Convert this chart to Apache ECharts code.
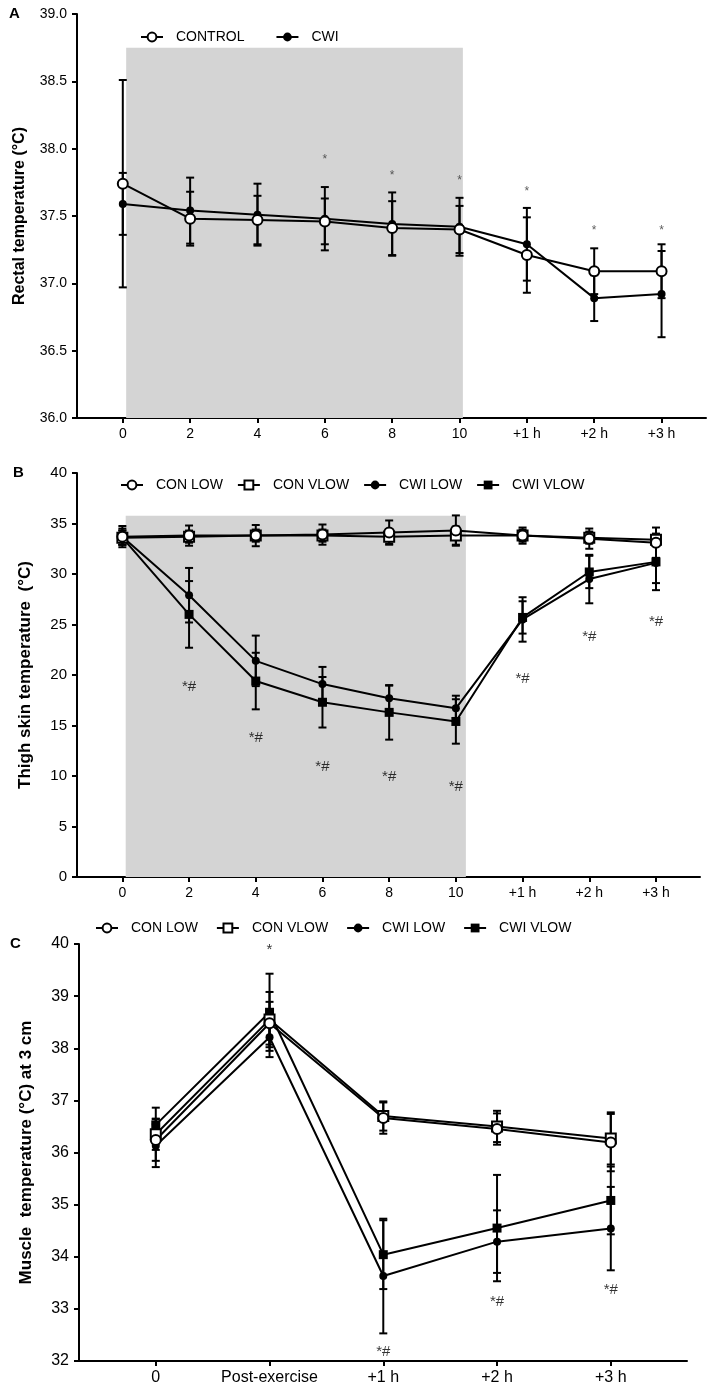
<!DOCTYPE html>
<html><head><meta charset="utf-8">
<script src="https://cdn.jsdelivr.net/npm/echarts@6/dist/echarts.min.js"></script>
<style>html,body{margin:0;padding:0;background:#fff}#c{width:709px;height:1389px}</style>
</head><body><div id="c"></div>
<script>
// ---------- tick labels ----------
const labelsAB = ['0', '2', '4', '6', '8', '10', '+1 h', '+2 h', '+3 h'];
const labelsC = ['0', 'Post-exercise', '+1 h', '+2 h', '+3 h'];

// ---------- Panel A: rectal temperature ----------
const aControlMean = [37.74, 37.48, 37.47, 37.46, 37.41, 37.40, 37.21, 37.09, 37.09];
const aControlSd   = [0.77, 0.20, 0.18, 0.17, 0.20, 0.175, 0.28, 0.17, 0.20];
const aCwiMean     = [37.59, 37.54, 37.51, 37.48, 37.44, 37.42, 37.29, 36.89, 36.92];
const aCwiSd       = [0.23, 0.245, 0.23, 0.235, 0.235, 0.215, 0.27, 0.17, 0.32];
const aMarkText    = [null, null, null, '*', '*', '*', '*', '*', '*'];
const aMarkY       = [null, null, null, 37.92, 37.80, 37.76, 37.68, 37.39, 37.39];

// ---------- Panel B: thigh skin temperature ----------
const bConLowMean  = [33.7, 33.8, 33.8, 33.9, 34.1, 34.3, 33.8, 33.5, 33.1];
const bConLowSd    = [1.05, 1.0, 1.05, 1.0, 1.2, 1.5, 0.6, 1.0, 1.5];
const bConVlowMean = [33.6, 33.7, 33.8, 33.8, 33.7, 33.8, 33.8, 33.6, 33.4];
const bConVlowSd   = [0.7, 0.6, 0.6, 0.6, 0.7, 0.9, 0.8, 0.6, 0.6];
const bCwiLowMean  = [33.7, 27.9, 21.4, 19.1, 17.7, 16.7, 25.5, 29.5, 31.1];
const bCwiLowSd    = [0.8, 2.7, 2.5, 1.7, 1.25, 1.25, 2.2, 2.4, 2.7];
const bCwiVlowMean = [33.6, 26.0, 19.4, 17.3, 16.3, 15.4, 25.7, 30.2, 31.2];
const bCwiVlowSd   = [0.7, 3.3, 2.8, 2.5, 2.7, 2.2, 1.6, 1.6, 2.1];
const bMarkText    = [null, '*#', '*#', '*#', '*#', '*#', '*#', '*#', '*#'];
const bMarkY       = [null, 18.8, 13.8, 10.9, 9.9, 8.9, 19.6, 23.8, 25.3];

// ---------- Panel C: muscle temperature at 3 cm ----------
const cConLowMean  = [36.24, 38.48, 36.66, 36.45, 36.19];
const cConLowSd    = [0.4, 0.41, 0.3, 0.3, 0.55];
const cConVlowMean = [36.35, 38.55, 36.70, 36.50, 36.27];
const cConVlowSd   = [0.3, 0.53, 0.28, 0.3, 0.5];
const cCwiLowMean  = [36.13, 38.21, 33.63, 34.29, 34.54];
const cCwiLowSd    = [0.41, 0.38, 1.1, 0.6, 0.8];
const cCwiVlowMean = [36.53, 38.69, 34.04, 34.55, 35.08];
const cCwiVlowSd   = [0.33, 0.74, 0.66, 1.02, 0.65];
const cMarkText    = [null, '*', '*#', '*#', '*#'];
const cMarkY       = [null, 39.89, 32.18, 33.14, 33.36];

// ---------- helpers ----------
const FONT = "'Liberation Sans', Arial, sans-serif";
const BLACK = '#000';

function markerStyle(kind) {
  // kind: 'oc' open circle, 'os' open square, 'fc' filled circle, 'fs' filled square
  const open = kind[0] === 'o';
  const circle = kind[1] === 'c';
  return {
    symbol: circle ? 'circle' : 'rect',
    symbolSize: open ? 10 : (circle ? 8 : 9),
    itemStyle: { color: open ? '#fff' : BLACK, borderColor: BLACK, borderWidth: open ? 2 : 0 }
  };
}

function lineSeries(name, means, gi, kind) {
  const m = markerStyle(kind);
  return {
    type: 'line', name: name, xAxisIndex: gi, yAxisIndex: gi, z: 4,
    data: means.map((v, i) => [i, v]),
    symbol: m.symbol, symbolSize: m.symbolSize, showSymbol: true,
    itemStyle: m.itemStyle,
    lineStyle: { color: BLACK, width: 2 },
    emphasis: { disabled: true }, animation: false
  };
}

function errSeries(means, sds, gi) {
  return {
    type: 'custom', xAxisIndex: gi, yAxisIndex: gi, z: 3, silent: true, animation: false,
    data: means.map((v, i) => [i, v - sds[i], v + sds[i]]),
    encode: { x: 0, y: [1, 2] },
    renderItem: function (params, api) {
      const x = api.value(0);
      const lo = api.coord([x, api.value(1)]);
      const hi = api.coord([x, api.value(2)]);
      const hw = 4;
      const st = { stroke: BLACK, lineWidth: 2 };
      return {
        type: 'group', children: [
          { type: 'line', shape: { x1: lo[0], y1: lo[1], x2: hi[0], y2: hi[1] }, style: st },
          { type: 'line', shape: { x1: lo[0] - hw, y1: lo[1], x2: lo[0] + hw, y2: lo[1] }, style: st },
          { type: 'line', shape: { x1: hi[0] - hw, y1: hi[1], x2: hi[0] + hw, y2: hi[1] }, style: st }
        ]
      };
    }
  };
}

function annoSeries(texts, ys, gi, size, color) {
  const data = [];
  texts.forEach((t, i) => { if (t) data.push({ value: [i, ys[i]], t: t }); });
  return {
    type: 'scatter', xAxisIndex: gi, yAxisIndex: gi, z: 5, silent: true, animation: false,
    symbolSize: 0, data: data,
    label: {
      show: true, position: 'inside', color: color, fontFamily: FONT, fontSize: size,
      formatter: p => p.data.t
    }
  };
}

function shadeSeries(gi, x0, x1, y0, y1) {
  return {
    type: 'line', xAxisIndex: gi, yAxisIndex: gi, z: 0, silent: true, data: [], animation: false,
    markArea: { silent: true, itemStyle: { color: '#d4d4d4' }, data: [[{ coord: [x0, y0] }, { coord: [x1, y1] }]] }
  };
}

function xAxis(gi, labels, min, max, fontSize) {
  const vals = labels.map((_, i) => i);
  return {
    type: 'value', gridIndex: gi, min: min, max: max,
    axisLine: { show: true, onZero: false, lineStyle: { color: BLACK, width: 2 } },
    axisTick: { show: true, customValues: vals, length: 5, lineStyle: { color: BLACK, width: 2 } },
    axisLabel: { customValues: vals, formatter: v => labels[Math.round(v)], color: BLACK,
      fontFamily: FONT, fontSize: fontSize, margin: 9 },
    splitLine: { show: false }
  };
}

function yAxis(gi, min, max, interval, fmt, fontSize, name, nameGap, nameSize) {
  return {
    type: 'value', gridIndex: gi, min: min, max: max, interval: interval,
    axisLine: { show: true, onZero: false, lineStyle: { color: BLACK, width: 2 } },
    axisTick: { show: true, length: 5, lineStyle: { color: BLACK, width: 2 } },
    axisLabel: { formatter: fmt, color: BLACK, fontFamily: FONT, fontSize: fontSize, margin: 10 },
    splitLine: { show: false },
    name: name, nameLocation: 'middle', nameRotate: 90, nameGap: nameGap,
    nameTextStyle: { color: BLACK, fontFamily: FONT, fontSize: nameSize, fontWeight: 'bold' }
  };
}

function legend(names, left, top, gap) {
  return {
    data: names, left: left, top: top, orient: 'horizontal', itemGap: gap, padding: 0,
    itemWidth: 22, itemHeight: 11, selectedMode: false,
    textStyle: { color: BLACK, fontFamily: FONT, fontSize: 14, padding: [0, 0, 0, 8] }
  };
}

const option = {
  backgroundColor: '#fff',
  animation: false,
  grid: [
    { left: 77, top: 14, width: 629, height: 404 },
    { left: 77, top: 473, width: 623, height: 404 },
    { left: 79, top: 944, width: 608, height: 417 }
  ],
  xAxis: [
    xAxis(0, labelsAB, -0.68, 8.66, 14),
    xAxis(1, labelsAB, -0.68, 8.66, 14),
    xAxis(2, labelsC, -0.675, 4.67, 16)
  ],
  yAxis: [
    yAxis(0, 36, 39, 0.5, v => v.toFixed(1), 14, 'Rectal temperature (°C)', 49, 16),
    yAxis(1, 0, 40, 5, v => String(v), 15, 'Thigh skin temperature  (°C)', 43, 17),
    yAxis(2, 32, 40, 1, v => String(v), 16, 'Muscle  temperature (°C) at 3 cm', 44, 17)
  ],
  legend: [
    legend(['CONTROL', 'CWI'], 140, 30, 31),
    legend(['CON LOW', 'CON VLOW', 'CWI LOW', 'CWI VLOW'], 120, 478, 14),
    legend(['CON LOW', 'CON VLOW', 'CWI LOW', 'CWI VLOW'], 95, 921, 18)
  ],
  graphic: [
    { type: 'text', left: 9, top: 6, style: { text: 'A', fontFamily: FONT, fontSize: 15, fontWeight: 'bold', fill: BLACK } },
    { type: 'text', left: 13, top: 465, style: { text: 'B', fontFamily: FONT, fontSize: 15, fontWeight: 'bold', fill: BLACK } },
    { type: 'text', left: 10, top: 936, style: { text: 'C', fontFamily: FONT, fontSize: 15, fontWeight: 'bold', fill: BLACK } }
  ],
  series: [
    shadeSeries(0, 0.05, 5.05, 36, 38.75),
    errSeries(aControlMean, aControlSd, 0),
    errSeries(aCwiMean, aCwiSd, 0),
    lineSeries('CWI', aCwiMean, 0, 'fc'),
    lineSeries('CONTROL', aControlMean, 0, 'oc'),
    annoSeries(aMarkText, aMarkY, 0, 12, '#333'),

    shadeSeries(1, 0.05, 5.15, 0, 35.76),
    errSeries(bConLowMean, bConLowSd, 1),
    errSeries(bConVlowMean, bConVlowSd, 1),
    errSeries(bCwiLowMean, bCwiLowSd, 1),
    errSeries(bCwiVlowMean, bCwiVlowSd, 1),
    lineSeries('CWI LOW', bCwiLowMean, 1, 'fc'),
    lineSeries('CWI VLOW', bCwiVlowMean, 1, 'fs'),
    lineSeries('CON VLOW', bConVlowMean, 1, 'os'),
    lineSeries('CON LOW', bConLowMean, 1, 'oc'),
    annoSeries(bMarkText, bMarkY, 1, 15, BLACK),

    errSeries(cConLowMean, cConLowSd, 2),
    errSeries(cConVlowMean, cConVlowSd, 2),
    errSeries(cCwiLowMean, cCwiLowSd, 2),
    errSeries(cCwiVlowMean, cCwiVlowSd, 2),
    lineSeries('CWI LOW', cCwiLowMean, 2, 'fc'),
    lineSeries('CWI VLOW', cCwiVlowMean, 2, 'fs'),
    lineSeries('CON VLOW', cConVlowMean, 2, 'os'),
    lineSeries('CON LOW', cConLowMean, 2, 'oc'),
    annoSeries(cMarkText, cMarkY, 2, 15, BLACK)
  ]
};

const chart = echarts.init(document.getElementById('c'), null, { renderer: 'canvas' });
chart.setOption(option);
</script>
</body></html>
